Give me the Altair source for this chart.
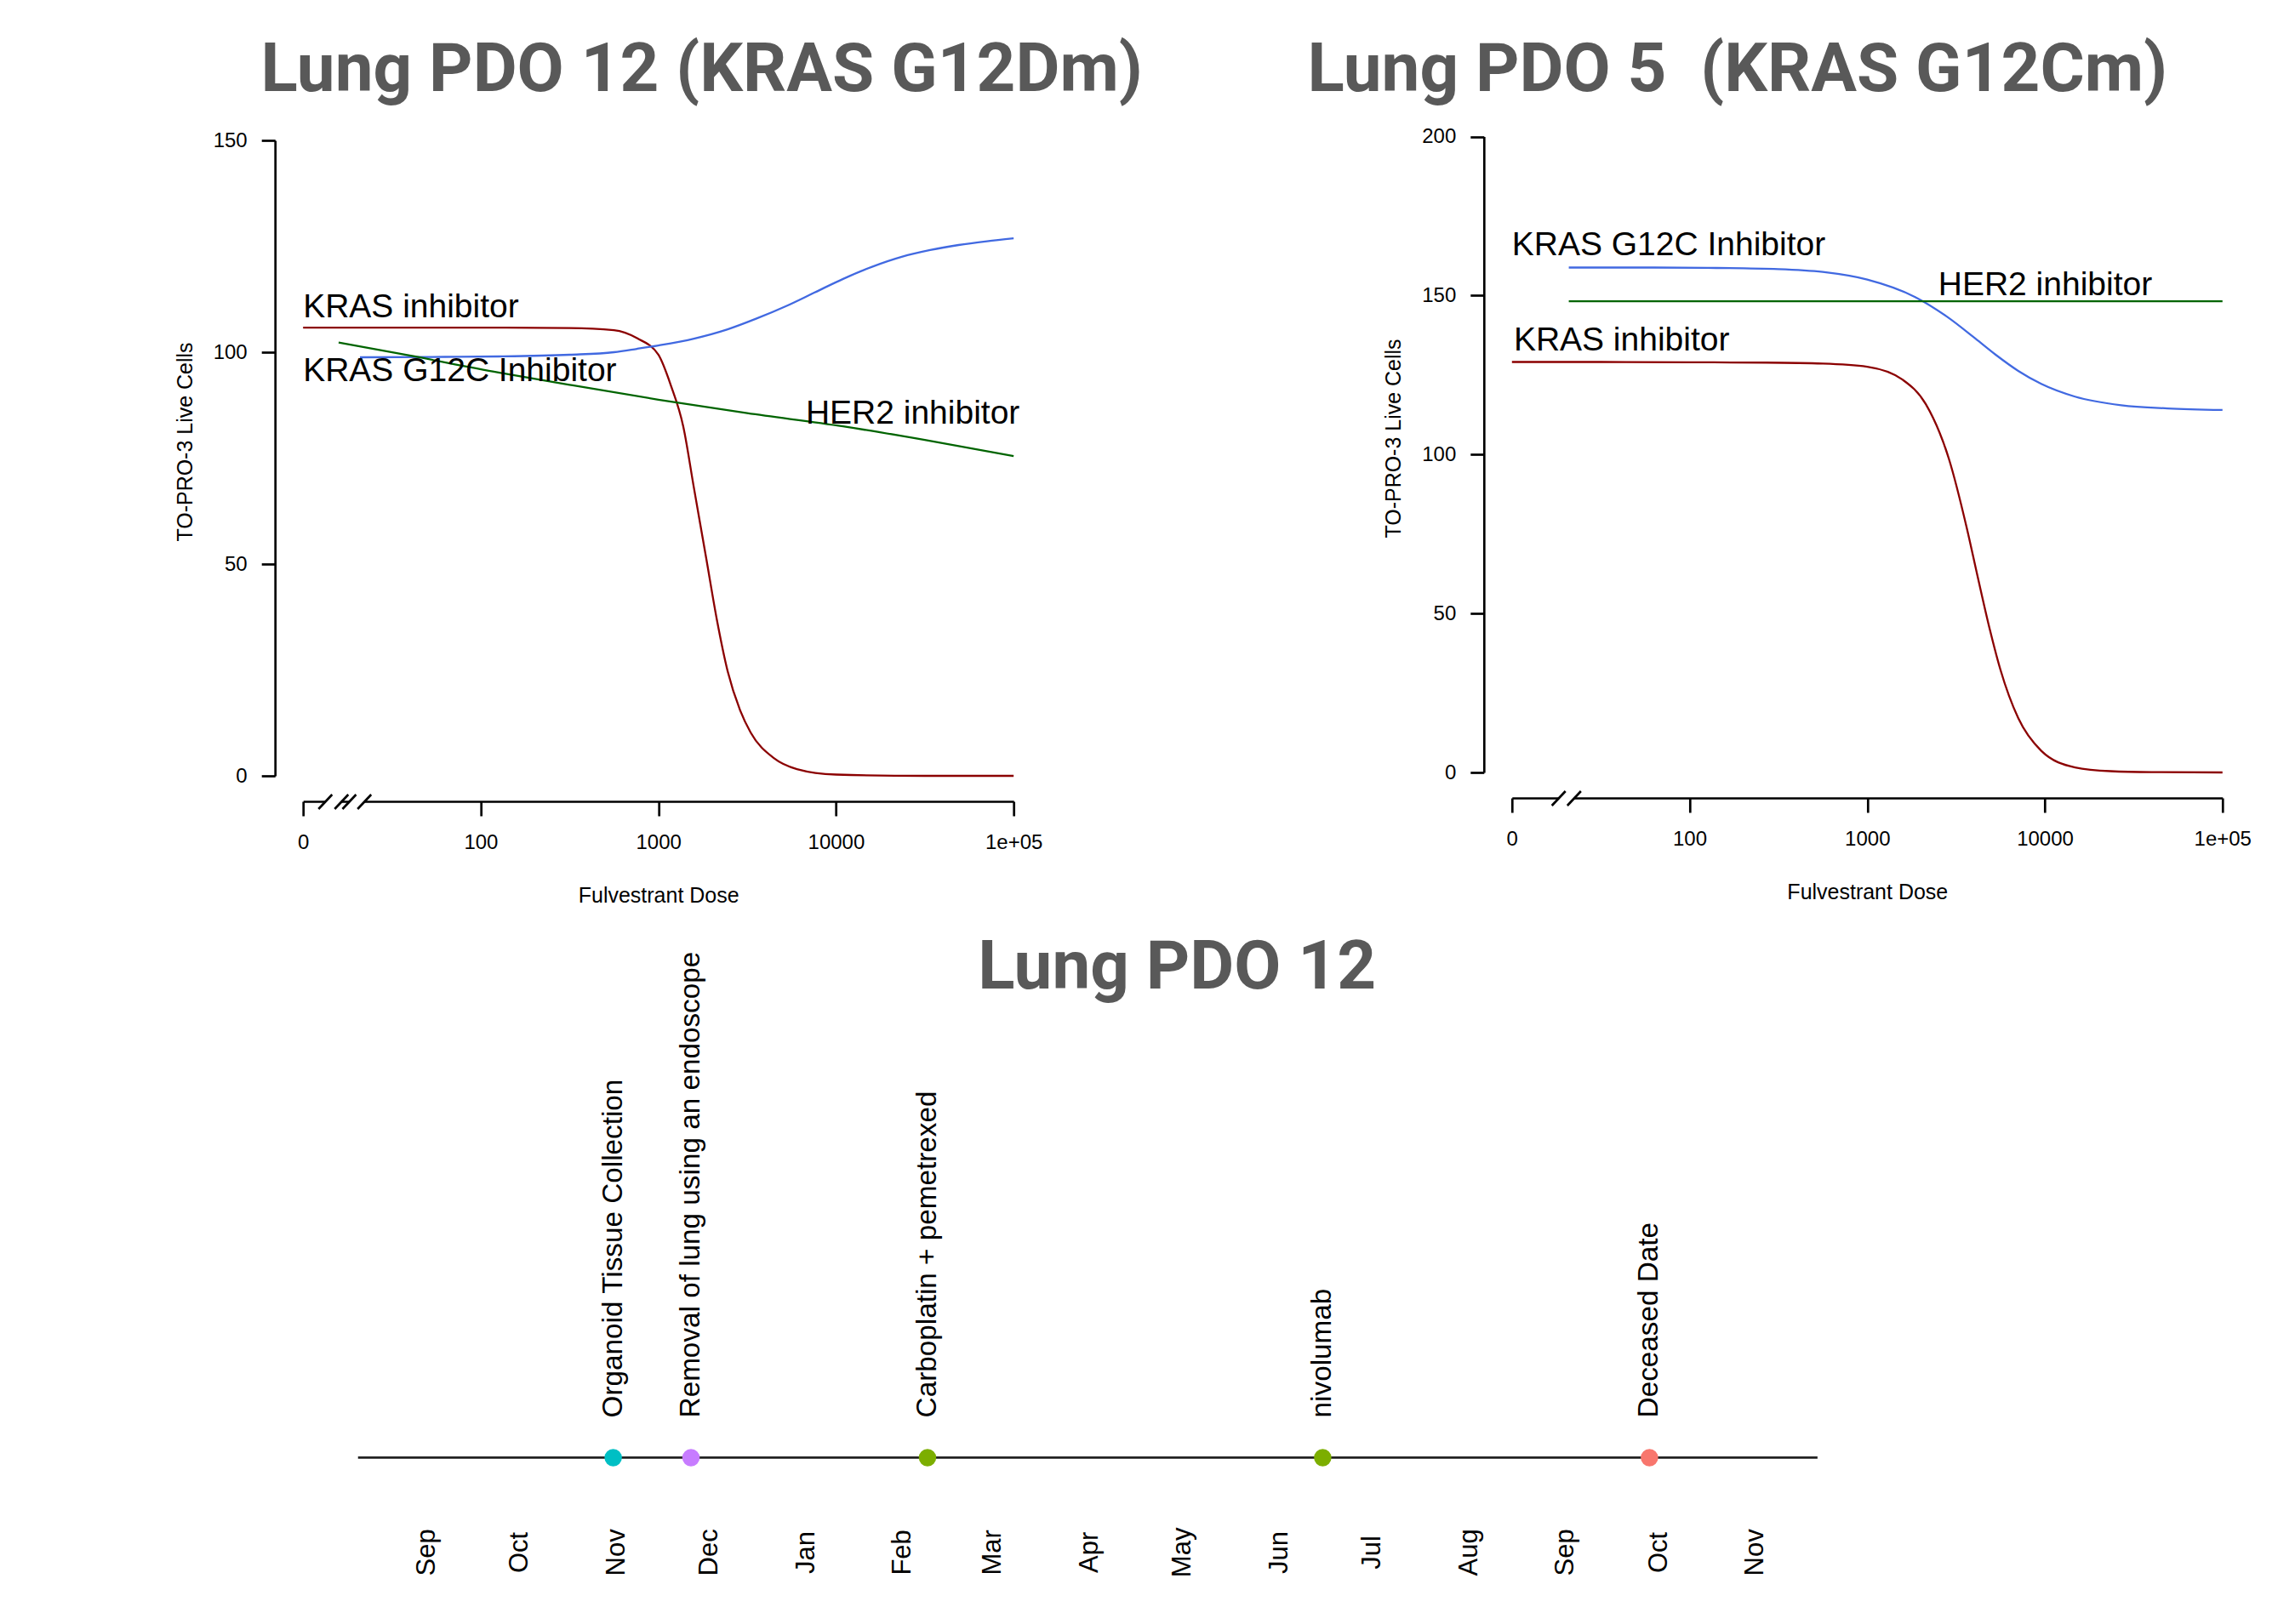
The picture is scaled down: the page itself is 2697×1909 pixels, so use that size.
import altair as alt
import pandas as pd

# ---------------- data: dose-response panels ----------------
# x is log10(dose); the "0" dose is drawn one decade below 100 (log10 = 1)
xtick_values = [1, 2, 3, 4, 5]
xtick_labels = ["0", "100", "1000", "10000", "1e+05"]

# Lung PDO 12 (KRAS G12Dm)
p12_kras_logdose = [1.0, 1.5, 2.0, 2.5, 2.75, 2.88, 3.0, 3.07, 3.14, 3.20, 3.27, 3.33, 3.39, 3.46, 3.52, 3.65, 3.78, 4.0, 4.5, 5.0]
p12_kras_value = [105.8, 105.8, 105.8, 105.7, 105.2, 103.3, 99.4, 92.2, 82.5, 68.0, 51.2, 36.7, 24.7, 15.5, 10.2, 4.2, 1.6, 0.3, 0.0, 0.0]
p12_g12c_logdose = [1.32, 1.8, 2.1, 2.5, 2.75, 2.88, 3.0, 3.2, 3.39, 3.55, 3.72, 3.88, 4.04, 4.2, 4.37, 4.53, 4.69, 4.85, 5.0]
p12_g12c_value = [98.8, 98.9, 99.0, 99.4, 100.0, 100.8, 101.6, 103.2, 105.4, 107.9, 110.9, 114.1, 117.3, 120.1, 122.5, 124.1, 125.3, 126.2, 126.9]
p12_her2_logdose = [1.2, 1.6, 2.1, 2.5, 3.0, 3.5, 4.04, 4.5, 5.0]
p12_her2_value = [102.3, 99.2, 95.2, 92.3, 88.8, 85.6, 82.5, 79.3, 75.5]
p12_label_text = ["KRAS inhibitor", "KRAS G12C Inhibitor", "HER2 inhibitor"]
p12_label_logdose = [1.0, 1.0, 3.83]
p12_label_value = [110.6, 95.6, 85.5]
p12_breaks_start = [1.125, 1.26]
p12_breaks_end = [1.216, 1.345]

# Lung PDO 5 (KRAS G12Cm)
p5_kras_logdose = [1.0, 1.5, 2.0, 2.43, 2.75, 3.0, 3.2, 3.33, 3.46, 3.56, 3.62, 3.69, 3.75, 3.85, 3.98, 4.17, 4.37, 4.6, 5.0]
p5_kras_value = [129.1, 129.1, 129.0, 128.9, 128.6, 127.6, 123.5, 115.8, 98.6, 77.0, 62.0, 45.0, 32.3, 17.1, 6.8, 1.6, 0.4, 0.1, 0.0]
p5_g12c_logdose = [1.32, 1.8, 2.1, 2.5, 2.75, 3.0, 3.27, 3.45, 3.61, 3.72, 3.85, 3.98, 4.17, 4.43, 4.69, 5.0]
p5_g12c_value = [158.8, 158.8, 158.7, 158.3, 157.4, 155.0, 149.5, 143.3, 136.4, 131.5, 126.3, 122.2, 118.2, 115.5, 114.5, 114.0]
p5_her2_logdose = [1.32, 3.0, 5.0]
p5_her2_value = [148.2, 148.2, 148.2]
p5_label_text = ["KRAS G12C Inhibitor", "HER2 inhibitor", "KRAS inhibitor"]
p5_label_logdose = [1.0, 3.40, 1.01]
p5_label_value = [165.9, 153.3, 135.9]
p5_breaks_start = [1.263]
p5_breaks_end = [1.35]

series_names = ["KRAS inhibitor", "KRAS G12C Inhibitor", "HER2 inhibitor"]
series_colors = ["#8B0000", "#4169E1", "#006400"]

# ---------------- data: timeline ----------------
event_dates = ["2019-10-31", "2019-11-25", "2020-02-09", "2020-06-15", "2020-09-28"]
event_labels = ["Organoid Tissue Collection", "Removal of lung using an endoscope",
                "Carboplatin + pemetrexed", "nivolumab", "Deceased Date"]
event_types = ["Organoid", "Surgery", "Treatment", "Treatment", "Death"]
type_names = ["Death", "Treatment", "Organoid", "Surgery"]
type_colors = ["#F8766D", "#7CAE00", "#00BFC4", "#C77CFF"]
timeline_start = ["2019-08-10"]
timeline_end = ["2020-11-21"]
month_ticks = ["2019-09-01", "2019-10-01", "2019-11-01", "2019-12-01", "2020-01-01",
               "2020-02-01", "2020-03-01", "2020-04-01", "2020-05-01", "2020-06-01",
               "2020-07-01", "2020-08-01", "2020-09-01", "2020-10-01", "2020-11-01"]
timeline_domain = ["2019-07-23 08:24", "2020-12-08 14:12"]

FONT = "Liberation Sans"
TITLE_FONT = "Roboto"
TITLE_COLOR = "#595959"
TITLE_SIZE = 80


def series_frame(names, xs, ys):
    frames = []
    for n, x, y in zip(names, xs, ys):
        frames.append(pd.DataFrame({"series": n, "logdose": x, "value": y}))
    return pd.concat(frames, ignore_index=True)


label_expr = " : ".join(f"datum.value == {v} ? '{l}'" for v, l in zip(xtick_values, xtick_labels)) + " : ''"


def dose_panel(lines_df, labels_df, breaks_df, ymax, yticks, height, range_top,
               title, title_dx, title_offset, ytitle_y):
    x_axis = alt.Axis(values=xtick_values, labelExpr=label_expr, title="Fulvestrant Dose",
                      offset=30, grid=False, tickSize=17, tickWidth=2.7, tickColor="black",
                      domainColor="black", domainWidth=2.7, labelFont=FONT, labelFontSize=24,
                      labelColor="black", labelPadding=20, labelFlush=False, labelBound=False,
                      titleFont=FONT, titleFontSize=25, titleFontWeight="normal",
                      titleColor="black", titlePadding=38)
    y_axis = alt.Axis(values=yticks, title="TO-PRO-3 Live Cells", offset=33, grid=False,
                      tickSize=16, tickWidth=2.7, tickColor="black", domainColor="black",
                      domainWidth=2.7, labelFont=FONT, labelFontSize=24, labelColor="black",
                      labelPadding=17, labelFlush=False, labelBound=False,
                      titleFont=FONT, titleFontSize=25, titleFontWeight="normal",
                      titleColor="black", titlePadding=20, titleY=ytitle_y)
    x_scale = alt.Scale(domain=[1, 5], nice=False, zero=False)
    x_enc = alt.X("logdose:Q", scale=x_scale, axis=x_axis)
    y_enc = alt.Y("value:Q", scale=alt.Scale(domain=[0, ymax], nice=False, zero=False,
                                             range=[height, range_top]), axis=y_axis)

    lines = alt.Chart(lines_df).mark_line(strokeWidth=2.3, interpolate="monotone").encode(
        x=x_enc, y=y_enc,
        color=alt.Color("series:N", scale=alt.Scale(domain=series_names, range=series_colors), legend=None),
    )
    texts = alt.Chart(labels_df).mark_text(align="left", baseline="middle", fontSize=39,
                                           font=FONT, color="black").encode(
        x=x_enc, y=y_enc, text="label:N")
    axis_y = height + 30
    gaps = alt.Chart(breaks_df).mark_rect(color="white").encode(
        x=x_enc, x2="logdose2:Q", y=alt.value(axis_y - 3), y2=alt.value(axis_y + 3))
    slash_a = alt.Chart(breaks_df).mark_rule(color="black", strokeWidth=2.7, xOffset=-8, x2Offset=8).encode(
        x=x_enc, x2="logdose:Q", y=alt.value(axis_y + 9), y2=alt.value(axis_y - 8))
    slash_b = alt.Chart(breaks_df).mark_rule(color="black", strokeWidth=2.7, xOffset=-8, x2Offset=8).encode(
        x=alt.X("logdose2:Q", scale=x_scale, axis=x_axis),
        x2="logdose2:Q", y=alt.value(axis_y + 9), y2=alt.value(axis_y - 8))

    return alt.layer(lines, texts, gaps, slash_a, slash_b).properties(
        width=835, height=height,
        title=alt.TitleParams(title, font=TITLE_FONT, fontSize=TITLE_SIZE, fontWeight="bold",
                              color=TITLE_COLOR, anchor="middle", dx=title_dx, offset=title_offset),
    )


left_lines = series_frame(series_names,
                          [p12_kras_logdose, p12_g12c_logdose, p12_her2_logdose],
                          [p12_kras_value, p12_g12c_value, p12_her2_value])
left_labels = pd.DataFrame({"label": p12_label_text, "logdose": p12_label_logdose, "value": p12_label_value})
left_breaks = pd.DataFrame({"logdose": p12_breaks_start, "logdose2": p12_breaks_end})

right_lines = series_frame(series_names,
                           [p5_kras_logdose, p5_g12c_logdose, p5_her2_logdose],
                           [p5_kras_value, p5_g12c_value, p5_her2_value])
right_labels = pd.DataFrame({"label": p5_label_text, "logdose": p5_label_logdose, "value": p5_label_value})
right_breaks = pd.DataFrame({"logdose": p5_breaks_start, "logdose2": p5_breaks_end})

left = dose_panel(left_lines, left_labels, left_breaks, 150, [0, 50, 100, 150], 752, 5,
                  "Lung PDO 12 (KRAS G12Dm)", 51, 29, 359)
right = dose_panel(right_lines, right_labels, right_breaks, 200, [0, 50, 100, 150, 200], 748, 0.5,
                   "Lung PDO 5\u00a0 (KRAS G12Cm)", -152.5, 24.5, 355)

# ---------------- timeline ----------------
def to_ms(s):
    return int(pd.Timestamp(s).value // 10**6)

events = pd.DataFrame({"date": event_dates, "label": event_labels, "type": event_types})
span = pd.DataFrame({"start": timeline_start, "end": timeline_end})

tl_scale = alt.Scale(type="utc", domain=[to_ms(d) for d in timeline_domain])
tl_axis = alt.Axis(values=[to_ms(m) for m in month_ticks], labelExpr="utcFormat(datum.value, '%b')",
                   labelAngle=270, labelAlign="center", labelBaseline="middle", domain=False,
                   ticks=False, tickSize=0, labelPadding=111, labelFont=FONT, labelFontSize=31,
                   labelColor="black", labelOverlap=False, labelBound=False, labelFlush=False,
                   grid=False, title=None)
TL_H = 534


def y_level():
    return alt.YDatum(0, type="quantitative", scale=alt.Scale(domain=[0, 1]), axis=None)


tl_line = alt.Chart(span).mark_rule(color="#222222", strokeWidth=2.8).encode(
    x=alt.X("start:T", scale=tl_scale, axis=tl_axis), x2="end:T", y=y_level())
tl_points = alt.Chart(events).mark_circle(size=420, opacity=1).encode(
    x=alt.X("date:T", scale=tl_scale, axis=tl_axis), y=y_level(),
    color=alt.Color("type:N", scale=alt.Scale(domain=type_names, range=type_colors), legend=None))
tl_text = alt.Chart(events).mark_text(angle=270, align="left", baseline="middle", dx=47,
                                      fontSize=33.3, font=FONT, color="black").encode(
    x=alt.X("date:T", scale=tl_scale, axis=tl_axis), y=y_level(), text="label:N")

timeline = alt.layer(tl_line, tl_points, tl_text).properties(
    width=1844, height=TL_H,
    title=alt.TitleParams("Lung PDO 12", font=TITLE_FONT, fontSize=TITLE_SIZE, fontWeight="bold",
                          color=TITLE_COLOR, anchor="middle", dx=105, offset=-61),
)

top = alt.hconcat(left, right, spacing=192.6)
chart = alt.vconcat(top, timeline, spacing=32.4).resolve_scale(color="independent").properties(
    padding={"left": 196.2, "top": 35, "right": 0, "bottom": 0}
).configure(background="white").configure_view(stroke=None)

chart.save("out.html", embed_options={"renderer": "svg", "actions": False})
